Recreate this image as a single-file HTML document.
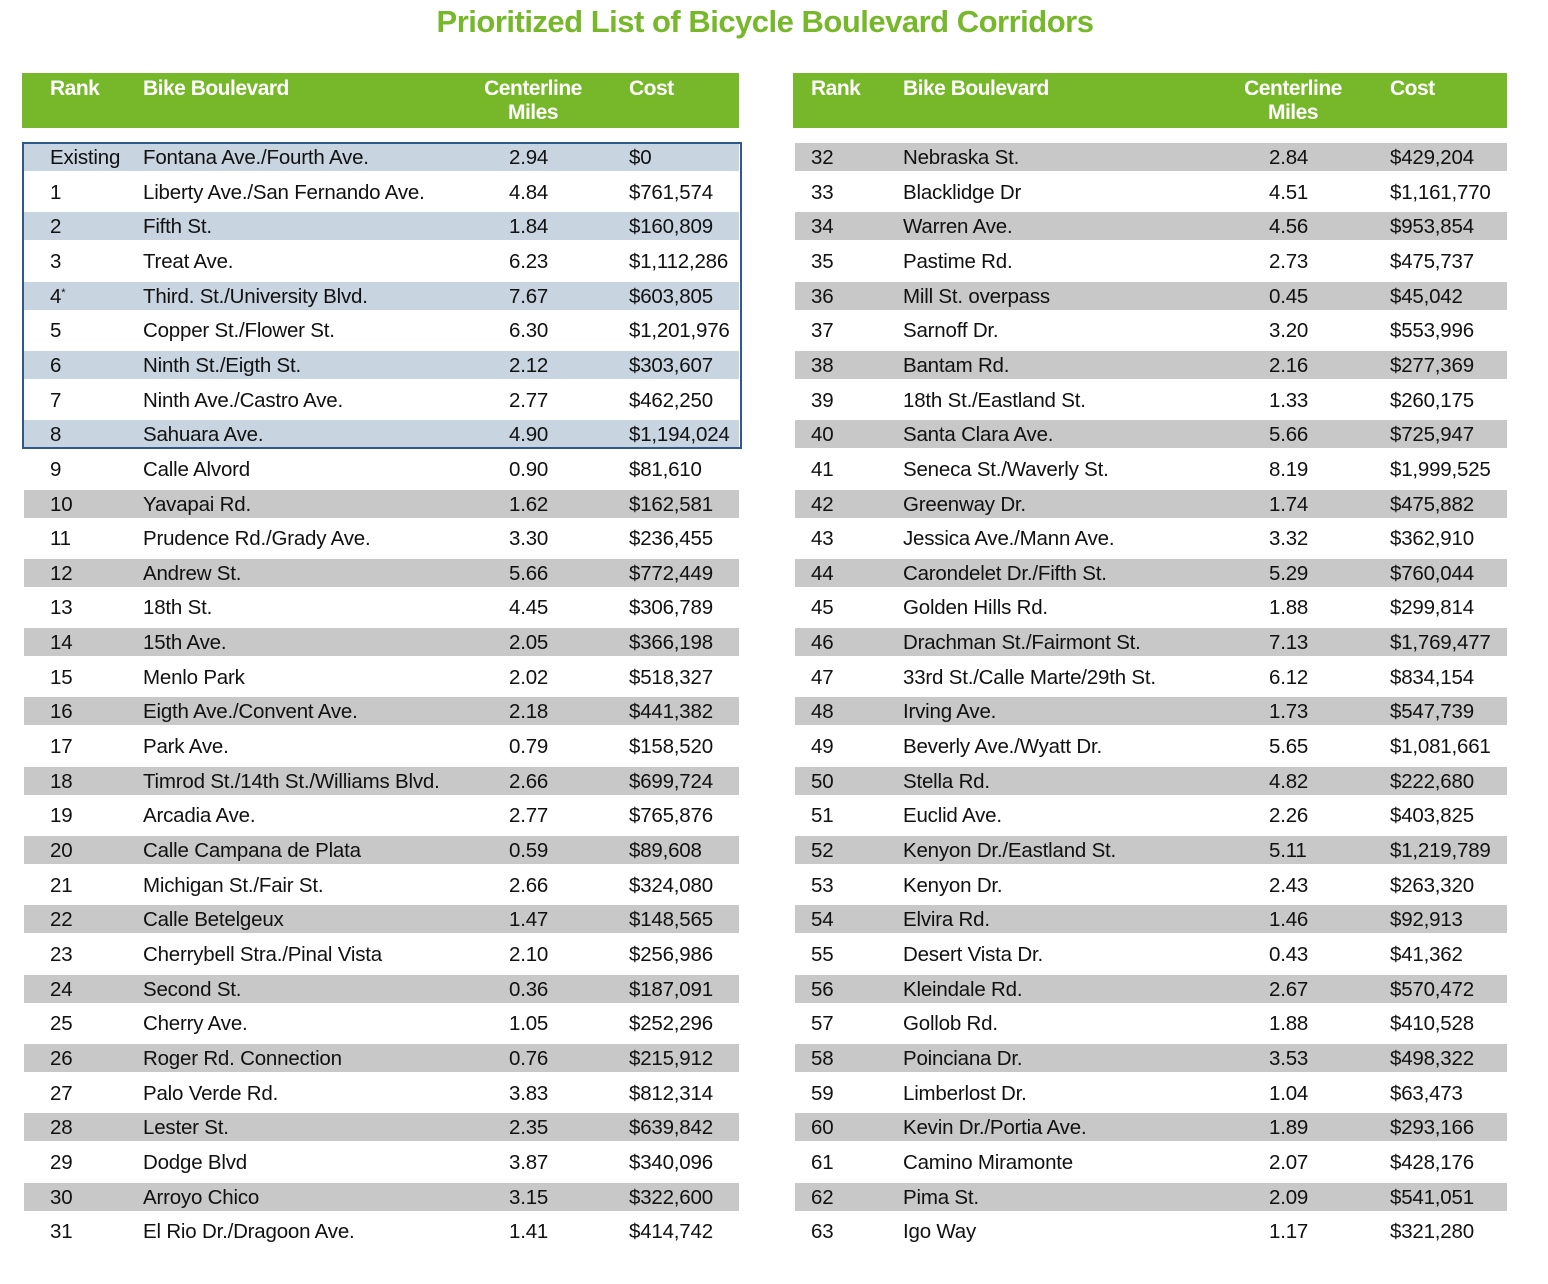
<!DOCTYPE html>
<html><head><meta charset="utf-8"><style>
body{margin:0;width:1548px;height:1284px;background:#fff;font-family:"Liberation Sans",sans-serif;position:relative;overflow:hidden}
.t{position:absolute;white-space:nowrap}
.title{left:0;width:1530px;text-align:center;top:4px;font-size:31px;font-weight:bold;color:#76b82a;letter-spacing:-0.5px}
.hdr{position:absolute;top:73px;height:55px;background:#76b82a}
.h{position:absolute;color:#fff;font-weight:bold;font-size:21px;letter-spacing:-0.5px;line-height:24px}
.stripe{position:absolute;height:28px}
.c{position:absolute;font-size:20.5px;color:#111;line-height:28px;white-space:nowrap;letter-spacing:-0.2px}
.c sup{font-size:11px;vertical-align:top;line-height:20px}
#box{position:absolute;left:22px;top:142px;width:716px;height:303px;border:2px solid #2d5a8a}
</style></head><body>
<div class="t title">Prioritized List of Bicycle Boulevard Corridors</div>
<div id="root"></div>
<script>
const ranks=["Existing","1","2","3","4*","5","6","7","8","9","10","11","12","13","14","15","16","17","18","19","20","21","22","23","24","25","26","27","28","29","30","31","32","33","34","35","36","37","38","39","40","41","42","43","44","45","46","47","48","49","50","51","52","53","54","55","56","57","58","59","60","61","62","63"];
const names=["Fontana Ave./Fourth Ave.","Liberty Ave./San Fernando Ave.","Fifth St.","Treat Ave.","Third. St./University Blvd.","Copper St./Flower St.","Ninth St./Eigth St.","Ninth Ave./Castro Ave.","Sahuara Ave.","Calle Alvord","Yavapai Rd.","Prudence Rd./Grady Ave.","Andrew St.","18th St.","15th Ave.","Menlo Park","Eigth Ave./Convent Ave.","Park Ave.","Timrod St./14th St./Williams Blvd.","Arcadia Ave.","Calle Campana de Plata","Michigan St./Fair St.","Calle Betelgeux","Cherrybell Stra./Pinal Vista","Second St.","Cherry Ave.","Roger Rd. Connection","Palo Verde Rd.","Lester St.","Dodge Blvd","Arroyo Chico","El Rio Dr./Dragoon Ave.","Nebraska St.","Blacklidge Dr","Warren Ave.","Pastime Rd.","Mill St. overpass","Sarnoff Dr.","Bantam Rd.","18th St./Eastland St.","Santa Clara Ave.","Seneca St./Waverly St.","Greenway Dr.","Jessica Ave./Mann Ave.","Carondelet Dr./Fifth St.","Golden Hills Rd.","Drachman St./Fairmont St.","33rd St./Calle Marte/29th St.","Irving Ave.","Beverly Ave./Wyatt Dr.","Stella Rd.","Euclid Ave.","Kenyon Dr./Eastland St.","Kenyon Dr.","Elvira Rd.","Desert Vista Dr.","Kleindale Rd.","Gollob Rd.","Poinciana Dr.","Limberlost Dr.","Kevin Dr./Portia Ave.","Camino Miramonte","Pima St.","Igo Way"];
const miles=["2.94","4.84","1.84","6.23","7.67","6.30","2.12","2.77","4.90","0.90","1.62","3.30","5.66","4.45","2.05","2.02","2.18","0.79","2.66","2.77","0.59","2.66","1.47","2.10","0.36","1.05","0.76","3.83","2.35","3.87","3.15","1.41","2.84","4.51","4.56","2.73","0.45","3.20","2.16","1.33","5.66","8.19","1.74","3.32","5.29","1.88","7.13","6.12","1.73","5.65","4.82","2.26","5.11","2.43","1.46","0.43","2.67","1.88","3.53","1.04","1.89","2.07","2.09","1.17"];
const costs=["$0","$761,574","$160,809","$1,112,286","$603,805","$1,201,976","$303,607","$462,250","$1,194,024","$81,610","$162,581","$236,455","$772,449","$306,789","$366,198","$518,327","$441,382","$158,520","$699,724","$765,876","$89,608","$324,080","$148,565","$256,986","$187,091","$252,296","$215,912","$812,314","$639,842","$340,096","$322,600","$414,742","$429,204","$1,161,770","$953,854","$475,737","$45,042","$553,996","$277,369","$260,175","$725,947","$1,999,525","$475,882","$362,910","$760,044","$299,814","$1,769,477","$834,154","$547,739","$1,081,661","$222,680","$403,825","$1,219,789","$263,320","$92,913","$41,362","$570,472","$410,528","$498,322","$63,473","$293,166","$428,176","$541,051","$321,280"];
const root=document.getElementById('root');
const tables=[{x:22,w:717,cols:[50,143,509,629]},{x:793,w:714,cols:[811,903,1269,1390]}];
function mk(cls,css,txt){const d=document.createElement('div');d.className=cls;d.style.cssText=css;if(txt!=null)d.textContent=txt;root.appendChild(d);return d;}
tables.forEach((t,ti)=>{
  const h=mk('hdr','left:'+t.x+'px;width:'+t.w+'px');
  
  
  const c=t.cols;
  [['Rank',c[0],77],['Bike Boulevard',c[1],77]].forEach(a=>{const e=mk('h','left:'+a[1]+'px;top:'+a[2]+'px',a[0]);
    
    });
  const m=mk('h','left:'+(c[2]-40)+'px;width:128px;text-align:center;top:77px','Centerline');
  
  
  const m2=mk('h','left:'+(c[2]-40)+'px;width:128px;text-align:center;top:101px','Miles');
  
  
  const co=mk('h','left:'+c[3]+'px;top:77px','Cost');
  
  
});
for(let i=0;i<ranks.length;i++){
  const ti=i<32?0:1;const t=tables[ti];const r=ti?i-32:i;
  const cy=157+r*34.65;const top=cy-14;
  const shaded=ti===0?(i%2===0):(r%2===0);
  if(shaded){
    const s=mk('stripe','left:'+(t.x+2)+'px;width:'+(t.w-2)+'px;top:'+top+'px;background:'+(ti===0&&i<=8?'#c8d4df':'#c8c8c8'));
    
    
  }
  const vals=[ranks[i],names[i],miles[i],costs[i]];
  vals.forEach((v,k)=>{
    const e=mk('c','left:'+t.cols[k]+'px;top:'+(top+1)+'px',null);
    if(k===0&&v.endsWith('*')){e.textContent=v.slice(0,-1);const sp=document.createElement('sup');sp.textContent='*';e.appendChild(sp);}
    else e.textContent=v;
    
    
  });
}
const b=document.createElement('div');b.id='box';


root.appendChild(b);
</script>
</body></html>
